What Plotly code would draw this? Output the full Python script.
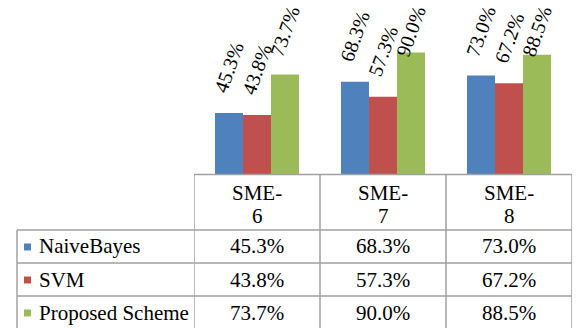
import plotly.graph_objects as go

# ---------------- data ----------------
categories = ["SME-6", "SME-7", "SME-8"]
series_names = ["NaiveBayes", "SVM", "Proposed Scheme"]
naive_bayes = [45.3, 68.3, 73.0]
svm = [43.8, 57.3, 67.2]
proposed = [73.7, 90.0, 88.5]
colors = ["#4F81BD", "#C0504D", "#9BBB59"]
series = [naive_bayes, svm, proposed]

# ---------------- layout constants ----------------
W, H = 581, 328
PLOT_X0, PLOT_X1 = 194, 572      # px, plot area / table columns
AXIS_Y = 174                      # px, baseline of bars
YMAX = 129
BARGAP = 0.333
TABLE_LEFT = 17
HEADER_BOTTOM = 230
ROW_H = 33
GRID = "#A0A0A0"
FONT = "Liberation Serif"


def py(p):
    return 1 - p / H


def fx(p):
    return p / W


unit = AXIS_Y / YMAX  # px per data unit

fig = go.Figure()
for name, vals, c in zip(series_names, series, colors):
    fig.add_trace(go.Bar(
        x=categories, y=vals, name=name,
        marker=dict(color=c, line=dict(width=0)),
        showlegend=False, hoverinfo="skip",
    ))

# rotated value labels above bars
n = len(series)
bw = (1 - BARGAP) / n
for si, vals in enumerate(series):
    off = (si - (n - 1) / 2) * bw
    for ci, v in enumerate(vals):
        ybot = min(v + 15 / unit, (AXIS_Y - 62) / unit)
        fig.add_annotation(
            x=ci + off, y=ybot, xref="x", yref="y",
            text=f"{v:.1f}%", showarrow=False, textangle=-70,
            xanchor="center", yanchor="bottom",
            font=dict(family=FONT, size=20),
        )

# table grid
fig.add_shape(type="line", xref="x", yref="paper", x0=-0.5, x1=len(categories) - 0.5,
              y0=py(AXIS_Y + 0.5), y1=py(AXIS_Y + 0.5), line=dict(color=GRID, width=1.5))
for k in range(len(categories) + 1):
    fig.add_shape(type="line", xref="x", yref="paper", x0=k - 0.5, x1=k - 0.5,
                  y0=py(AXIS_Y), y1=0, line=dict(color=GRID, width=1.5))
fig.add_shape(type="line", xref="paper", yref="paper", x0=fx(TABLE_LEFT), x1=fx(TABLE_LEFT),
              y0=py(HEADER_BOTTOM), y1=0, line=dict(color=GRID, width=1.5))
for r in range(len(series)):
    yy = HEADER_BOTTOM + r * ROW_H
    fig.add_shape(type="line", xref="paper", yref="paper",
                  x0=fx(TABLE_LEFT), x1=fx(PLOT_X1), y0=py(yy), y1=py(yy),
                  line=dict(color=GRID, width=1.5))

# header text
for ci, cat in enumerate(categories):
    i = cat.index("-") + 1
    fig.add_annotation(x=ci, y=py(193), xref="x", yref="paper", text=cat[:i],
                       showarrow=False, xanchor="center", yanchor="middle",
                       font=dict(family=FONT, size=21))
    fig.add_annotation(x=ci, y=py(215.5), xref="x", yref="paper", text=cat[i:],
                       showarrow=False, xanchor="center", yanchor="middle",
                       font=dict(family=FONT, size=21))

# rows
for r, (name, vals, c) in enumerate(zip(series_names, series, colors)):
    yc = HEADER_BOTTOM + r * ROW_H + ROW_H / 2
    fig.add_shape(type="rect", xref="paper", yref="paper",
                  x0=fx(24), x1=fx(31), y0=py(yc - 3), y1=py(yc + 4),
                  fillcolor=c, line=dict(width=0))
    fig.add_annotation(x=fx(37), y=py(yc), xref="paper", yref="paper", text=name,
                       showarrow=False, xanchor="left", yanchor="middle",
                       font=dict(family=FONT, size=21))
    for ci, v in enumerate(vals):
        fig.add_annotation(x=ci, y=py(yc), xref="x", yref="paper", text=f"{v:.1f}%",
                           showarrow=False, xanchor="center", yanchor="middle",
                           font=dict(family=FONT, size=21))

fig.update_layout(
    width=W, height=H, margin=dict(l=0, r=0, t=0, b=0),
    paper_bgcolor="white", plot_bgcolor="white",
    font=dict(family=FONT, color="#000000"),
    barmode="group", bargap=BARGAP, bargroupgap=0,
    xaxis=dict(type="category", domain=[fx(PLOT_X0), fx(PLOT_X1)], range=[-0.5, 2.5],
               showticklabels=False, showgrid=False, zeroline=False, showline=False, ticks=""),
    yaxis=dict(domain=[py(AXIS_Y), 1], range=[0, YMAX], visible=False),
)

fig.write_html("out.html")
